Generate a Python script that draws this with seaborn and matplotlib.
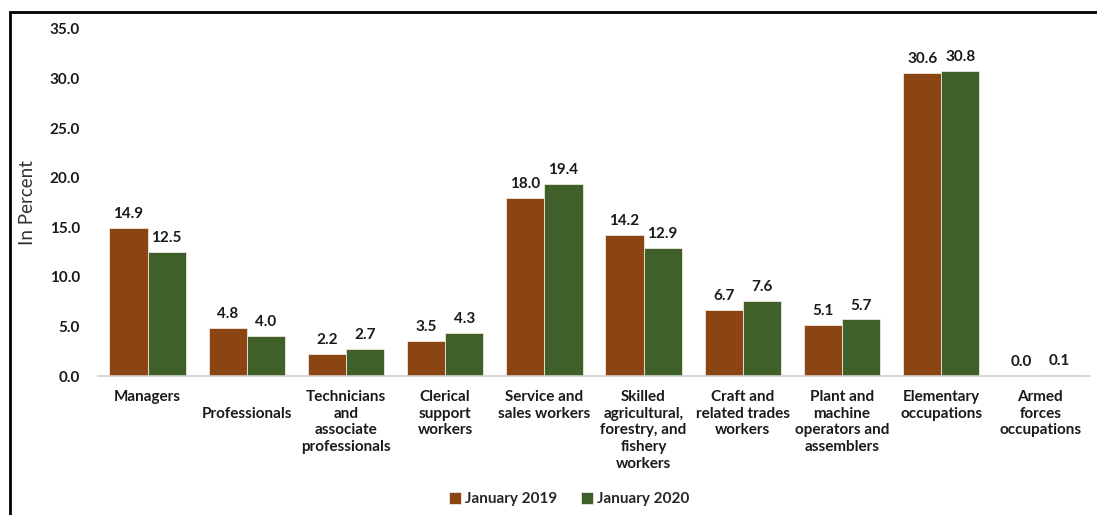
import matplotlib
matplotlib.use('Agg')
import matplotlib.pyplot as plt
import seaborn as sns
import pandas as pd
from matplotlib.patches import Rectangle

categories = ['Managers', '\nProfessionals', 'Technicians\nand\nassociate\nprofessionals',
              'Clerical\nsupport\nworkers', 'Service and\nsales workers',
              'Skilled\nagricultural,\nforestry, and\nfishery\nworkers',
              'Craft and\nrelated trades\nworkers', 'Plant and\nmachine\noperators and\nassemblers',
              'Elementary\noccupations', 'Armed\nforces\noccupations']
jan_2019 = [14.9, 4.8, 2.2, 3.5, 18.0, 14.2, 6.7, 5.1, 30.6, 0.0]
jan_2020 = [12.5, 4.0, 2.7, 4.3, 19.4, 12.9, 7.6, 5.7, 30.8, 0.1]
series = ['January 2019', 'January 2020']
y_ticks = [0, 5, 10, 15, 20, 25, 30, 35]

df = pd.DataFrame({
    'Category': categories * 2,
    'Value': jan_2019 + jan_2020,
    'Year': [series[0]] * len(categories) + [series[1]] * len(categories),
})

sns.set_theme(style='white')
plt.rcParams['font.family'] = ['Lato', 'DejaVu Sans']

fig = plt.figure(figsize=(10.97, 5.15), dpi=100)
ax = fig.add_axes([0.0893, 0.2699, 0.9043, 0.6738])

sns.barplot(data=df, x='Category', y='Value', hue='Year',
            palette=['#8B4513', '#3F6129'], saturation=1, width=0.77, ax=ax,
            edgecolor='#f0e6e0', linewidth=0.6, errorbar=None)

for cont in ax.containers:
    ax.bar_label(cont, fmt='%.1f', padding=5, fontsize=11, fontweight='bold', color='#1a1a1a')

ax.set_ylim(0, 35)
ax.set_yticks(y_ticks)
ax.set_yticklabels([f'{t:.1f}' for t in y_ticks], fontsize=11, fontweight='bold', color='#1a1a1a')
ax.tick_params(axis='y', length=0, pad=13)
ax.tick_params(axis='x', length=0, pad=10)
for lab in ax.get_xticklabels():
    lab.set_fontsize(11)
    lab.set_fontweight('bold')
    lab.set_color('#1a1a1a')
    lab.set_verticalalignment('top')
    lab.set_multialignment('center')
    lab.set_linespacing(1.25)
ax.set_xlabel('')
ax.set_ylabel('In Percent', fontsize=13.5, color='#333333', labelpad=10)

for side in ['top', 'right', 'left']:
    ax.spines[side].set_visible(False)
ax.spines['bottom'].set_color('#d0d0d0')
ax.spines['bottom'].set_linewidth(1.2)
ax.set_xlim(-0.5, 9.5)

leg = ax.legend(loc='upper center', bbox_to_anchor=(0.475, -0.295), ncol=2, frameon=False,
                handlelength=0.8, handleheight=0.8, handletextpad=0.3, columnspacing=1.5,
                prop={'size': 11, 'weight': 'bold'})

fig.patches.append(Rectangle((10 / 1097, -0.1), 1.2, 1 - 12 / 515 + 0.1,
                             transform=fig.transFigure, fill=False,
                             edgecolor='black', linewidth=2))

fig.savefig('out.png', dpi=100)
